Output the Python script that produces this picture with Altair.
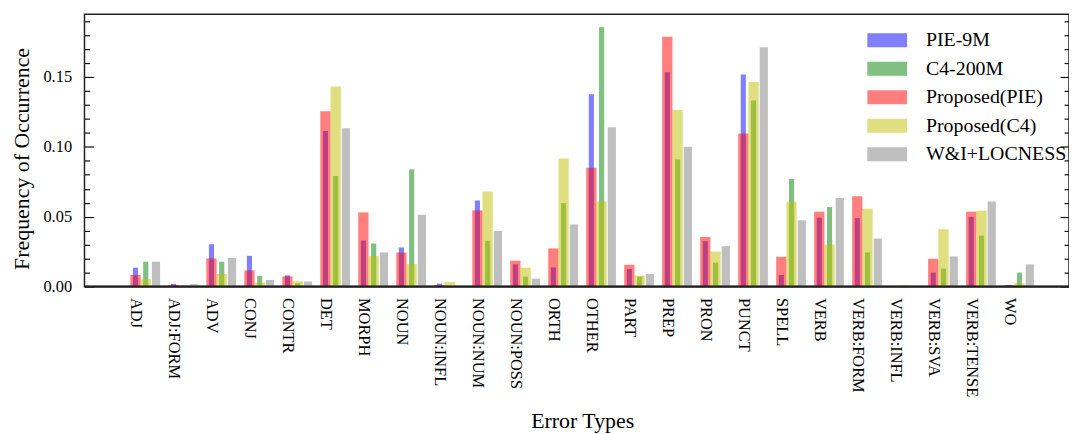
import json
import pandas as pd
import altair as alt

categories = ["ADJ", "ADJ:FORM", "ADV", "CONJ", "CONTR", "DET", "MORPH", "NOUN",
              "NOUN:INFL", "NOUN:NUM", "NOUN:POSS", "ORTH", "OTHER", "PART", "PREP",
              "PRON", "PUNCT", "SPELL", "VERB", "VERB:FORM", "VERB:INFL", "VERB:SVA",
              "VERB:TENSE", "WO"]
series = ["PIE-9M", "C4-200M", "Proposed(PIE)", "Proposed(C4)", "W&I+LOCNESS"]

pie_9m = [0.0135, 0.0019, 0.0303, 0.0220, 0.0080, 0.1114, 0.0329, 0.0280, 0.0021, 0.0616,
          0.0159, 0.0137, 0.1377, 0.0126, 0.1533, 0.0325, 0.1517, 0.0083, 0.0493, 0.0490,
          0.0003, 0.0100, 0.0498, 0.0012]
c4_200m = [0.0178, 0.0007, 0.0178, 0.0076, 0.0024, 0.0791, 0.0308, 0.0839, 0.0005, 0.0327,
           0.0071, 0.0597, 0.1855, 0.0071, 0.0910, 0.0171, 0.1332, 0.0770, 0.0569, 0.0244,
           0.0005, 0.0128, 0.0365, 0.0100]
proposed_pie = [0.0083, 0.0012, 0.0201, 0.0116, 0.0073, 0.1254, 0.0531, 0.0244, 0.0012, 0.0545,
                0.0185, 0.0273, 0.0851, 0.0156, 0.1787, 0.0355, 0.1095, 0.0213, 0.0536, 0.0647,
                0.0003, 0.0199, 0.0536, 0.0010]
proposed_c4 = [0.0052, 0.0007, 0.0090, 0.0028, 0.0038, 0.1431, 0.0218, 0.0161, 0.0033, 0.0680,
               0.0135, 0.0917, 0.0609, 0.0078, 0.1263, 0.0251, 0.1464, 0.0607, 0.0301, 0.0557,
               0.0010, 0.0410, 0.0543, 0.0024]
wi_locness = [0.0178, 0.0017, 0.0206, 0.0047, 0.0036, 0.1133, 0.0244, 0.0514, 0.0003, 0.0398,
              0.0057, 0.0445, 0.1140, 0.0090, 0.1000, 0.0289, 0.1713, 0.0474, 0.0633, 0.0344,
              0.0000, 0.0216, 0.0609, 0.0159]

major_ticks = [0.0, 0.05, 0.10, 0.15]
minor_ticks = [round(0.01 * k, 2) for k in range(1, 20) if k % 5]

# ---- style ----
colors = ["#0000ff", "#008000", "#ff0000", "#bfbf00", "#808080"]
bar_offsets = [0.0, 0.27, 0.0, 0.27, 0.54]
bar_widths = [0.135, 0.135, 0.27, 0.27, 0.216]
FONT = "Liberation Serif"
W, H = 991, 274
PX_PER_UNIT = 38.24
X_MIN = -1.342
X_MAX = X_MIN + W / PX_PER_UNIT
Y_MAX = 0.1948

all_values = [pie_9m, c4_200m, proposed_pie, proposed_c4, wi_locness]
rows = []
for s, (name, vals) in enumerate(zip(series, all_values)):
    for i, (cat, v) in enumerate(zip(categories, vals)):
        rows.append({"series": name, "s": s, "idx": i, "category": cat, "value": v})
df = pd.DataFrame(rows)

xscale = alt.Scale(domain=[X_MIN, X_MAX], nice=False, zero=False)
yscale = alt.Scale(domain=[0, Y_MAX], nice=False, zero=True)
label_expr = json.dumps(categories) + "[datum.value]"
off = json.dumps(bar_offsets)
wid = json.dumps(bar_widths)

bars = alt.Chart(df).transform_calculate(
    xa=f"datum.idx + {off}[datum.s] - {wid}[datum.s] / 2",
    xb=f"datum.idx + {off}[datum.s] + {wid}[datum.s] / 2",
).mark_bar(opacity=0.5, strokeWidth=0).encode(
    x=alt.X("xa:Q", scale=xscale, axis=alt.Axis(
        values=list(range(len(categories))), labelExpr=label_expr,
        labelAngle=90, labelAlign="left", labelBaseline="middle", labelPadding=11,
        ticks=False, domain=False, grid=False, labelOverlap=False, labelFlush=False,
        labelBound=False, labelFont=FONT, labelFontSize=16.5, labelColor="black",
        title="Error Types", titleFont=FONT, titleFontSize=22, titleFontWeight="normal",
        titleColor="black", titleX=501, titleY=142, titleBaseline="alphabetic",
        titleAlign="center")),
    x2="xb:Q",
    y=alt.Y("value:Q", scale=yscale, stack=False, axis=alt.Axis(
        orient="left", values=major_ticks, format=".2f", ticks=False, domain=False,
        grid=False, labelPadding=13, labelFont=FONT, labelFontSize=16.5,
        labelColor="black", title="Frequency of Occurrence", titleFont=FONT,
        titleFontSize=22, titleFontWeight="normal", titleColor="black",
        titleX=-63, titleY=145, titleAngle=270, titleBaseline="middle",
        titleAlign="center")),
    y2=alt.datum(0),
    color=alt.Color("series:N", sort=series,
                    scale=alt.Scale(domain=series, range=colors),
                    legend=alt.Legend(
                        title=None, orient="none", legendX=785, legendY=16,
                        symbolType="M-2.857,-1H2.857V1H-2.857Z", symbolSize=196,
                        symbolOpacity=0.5, symbolStrokeWidth=0, symbolOffset=13,
                        labelOffset=29, labelFont=FONT, labelFontSize=20,
                        labelColor="black", rowPadding=8.7, padding=0,
                        labelLimit=400)),
)


def tick_layer(values, orient, size):
    return alt.Chart(pd.DataFrame({"v": values})).mark_point(opacity=0).encode(
        y=alt.Y("v:Q", scale=yscale, axis=alt.Axis(
            orient=orient, offset=-W, values=values, tickSize=size, ticks=True,
            labels=False, domain=False, grid=False, title=None,
            tickColor="#111111", tickWidth=1.2)))


# bottom spine drawn a bit heavier, as in the reference
bottom = alt.Chart(pd.DataFrame({"v": [0.0]})).mark_rule(
    color="#222222", strokeWidth=2.2).encode(
    y=alt.Y("v:Q", scale=yscale, axis=None))

chart = alt.layer(
    bars,
    bottom,
    tick_layer(major_ticks, "right", 9),
    tick_layer(minor_ticks, "right", 5),
    tick_layer(major_ticks, "left", 9),
    tick_layer(minor_ticks, "left", 5),
).resolve_axis(y="independent").properties(
    width=W, height=H,
    autosize=alt.AutoSizeParams(type="none"),
    padding={"left": 77, "top": 5, "right": 0, "bottom": 147},
).configure(font=FONT).configure_view(stroke="#222222", strokeWidth=1.5)

chart.save("out.html", embed_options={"renderer": "svg", "actions": False})
